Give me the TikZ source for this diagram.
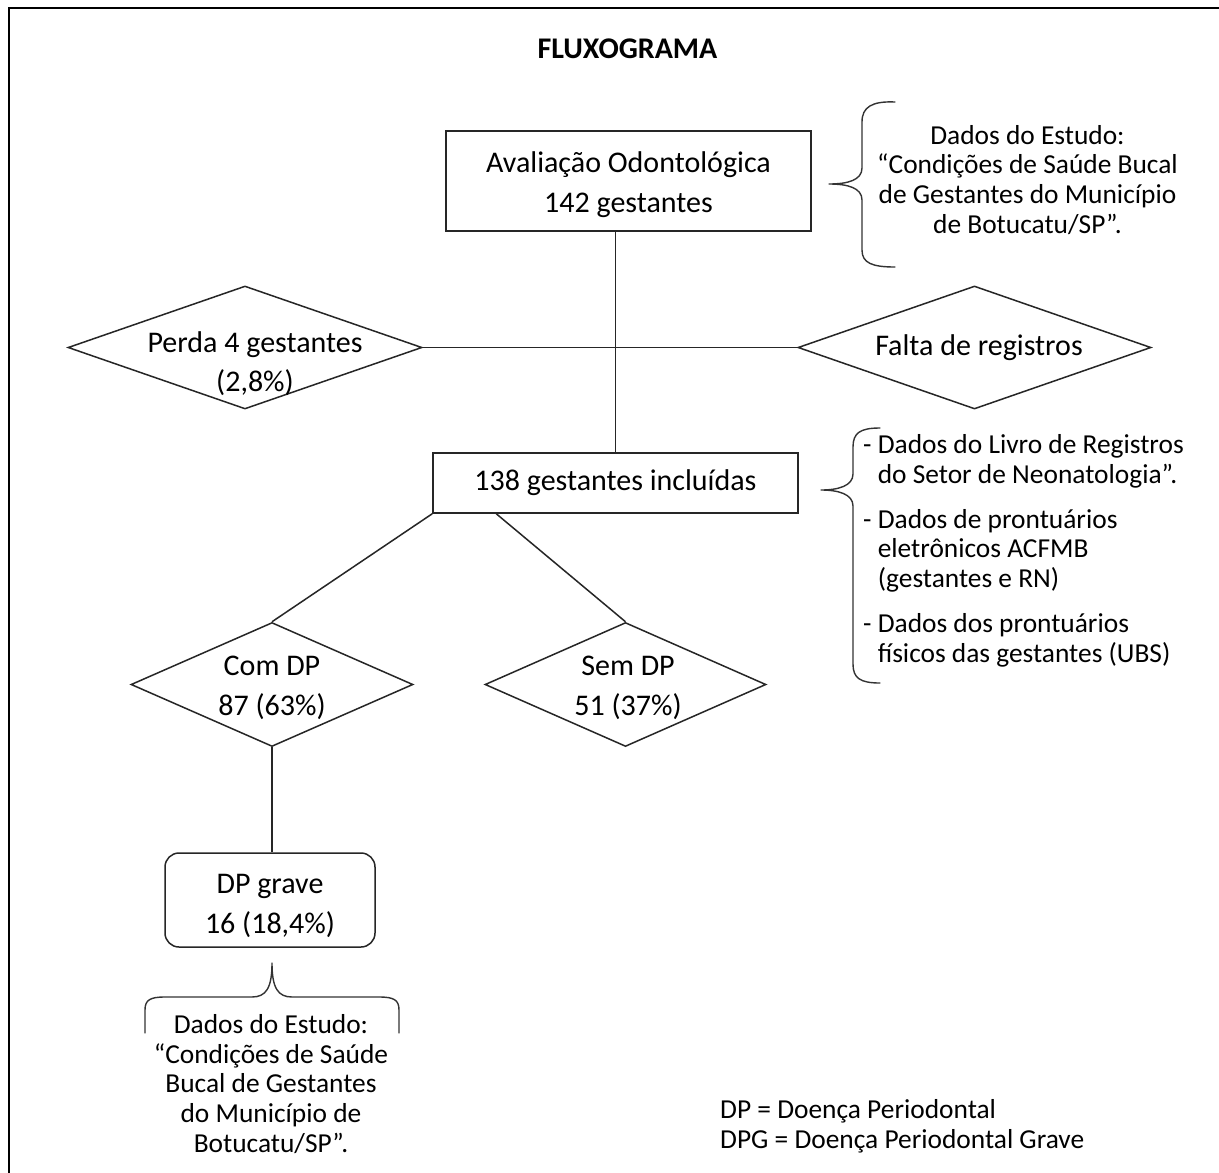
\documentclass[tikz,border=0pt]{standalone}
\usepackage{fontspec}
\setmainfont{Carlito}
\usetikzlibrary{shapes.geometric,calc}
\begin{document}
\begin{tikzpicture}[x=1pt,y=-1pt,
  ln/.style={line width=1.5pt, draw=black!85},
  boxnode/.style={ln, draw, rectangle, inner sep=0pt},
  dianode/.style={ln, draw, diamond, inner sep=0pt},
  bigtxt/.style={font=\fontsize{30}{40}\selectfont, inner sep=0pt, align=center, anchor=base},
  smalltxt/.style={font=\fontsize{27.4}{29.6}\selectfont, inner sep=0pt, anchor=base},
  bracepath/.style={line width=1.4pt, draw=black!80, line join=round, line cap=round}
]
\useasboundingbox (0,0) rectangle (1219,1173);
\fill[white] (0,0) rectangle (1219,1173);

% outer frame (left and top edges visible)
\draw[line width=2.6pt] (9,1173) -- (9,8) -- (1219,8);

% title
\node[font=\bfseries\fontsize{30}{36}\selectfont, inner sep=0pt, anchor=base] (title) at (627.5,58) {FLUXOGRAMA};

% main boxes (multi-line text nodes are anchored at the baseline of their last line)
\node[boxnode, minimum width=365pt, minimum height=100pt] (b1) at (628.5,181) {};
\node[bigtxt] (b1t) at (628.5,212) {Avaliação Odontológica\\142 gestantes};

\node[boxnode, minimum width=365pt, minimum height=60pt, font=\fontsize{30}{40}\selectfont] (b2) at (615.5,483) {138 gestantes incluídas};

% diamonds
\node[dianode, minimum width=354pt, minimum height=123pt] (d1) at (245,347.5) {};
\node[bigtxt, font=\fontsize{30}{39}\selectfont] (d1t) at (255,391) {Perda 4 gestantes\\(2,8\%)};

\node[dianode, minimum width=353pt, minimum height=123pt] (d2) at (974.5,347.5) {};
\node[bigtxt] (d2t) at (979,355) {Falta de registros};

\node[dianode, minimum width=282pt, minimum height=124pt] (d3) at (272,684.5) {};
\node[bigtxt] (d3t) at (272,715) {Com DP\\87 (63\%)};

\node[dianode, minimum width=281pt, minimum height=124pt] (d4) at (625.5,684.5) {};
\node[bigtxt] (d4t) at (628,715) {Sem DP\\51 (37\%)};

% rounded box
\node[boxnode, rounded corners=14pt, minimum width=210pt, minimum height=94pt] (rb) at (270,900) {};
\node[bigtxt] (rbt) at (270,933) {DP grave\\16 (18,4\%)};

% connectors
\draw[ln] (b2.north |- b1.south) -- (b2.north);
\draw[ln] (d1.east) -- (d2.west);
\draw[ln] (b2.south west) -- (d3.north);
\coordinate (b2r) at ($(b2.south west)+(64,0)$);
\draw[ln] (b2r) -- (d4.north);
\draw[ln] (d3.south) -- (d3.south |- rb.north);

% brace 1
\draw[bracepath] (895,102) .. controls (872,101) and (862,107) .. (862,122) -- (862,168)
  .. controls (862,180) and (848,184) .. (829,184)
  .. controls (848,184) and (862,188) .. (862,200) -- (862,250)
  .. controls (862,263) and (872,267) .. (895,267);
\node[smalltxt, align=center] (s1) at (1027.5,233) {Dados do Estudo:\\“Condições de Saúde Bucal\\de Gestantes do Município\\de Botucatu/SP”.};

% brace 2
\draw[bracepath] (880,428) .. controls (860,428) and (853,433) .. (853,447) -- (853,474)
  .. controls (853,486) and (838,490) .. (821,490)
  .. controls (838,490) and (853,494) .. (853,506) -- (853,664)
  .. controls (853,678) and (860,683) .. (880,683);
\node[smalltxt, anchor=base west, align=left] (s2) at (863,662) {- Dados do Livro de Registros\\\hphantom{-\ }do Setor de Neonatologia”.\\[15.5pt]- Dados de prontuários\\\hphantom{-\ }eletrônicos ACFMB\\\hphantom{-\ }(gestantes e RN)\\[15.5pt]- Dados dos prontuários\\\hphantom{-\ }físicos das gestantes (UBS)};

% bottom brace
\draw[bracepath] (145,1033) -- (145,1010) .. controls (145,1000) and (150,997) .. (165,997) -- (252,997)
  .. controls (266,997) and (272,988) .. (272,963)
  .. controls (272,988) and (278,997) .. (292,997) -- (379,997)
  .. controls (394,997) and (399,1000) .. (399,1010) -- (399,1033);
\node[smalltxt, align=center] (s3) at (271,1152) {Dados do Estudo:\\“Condições de Saúde\\Bucal de Gestantes\\do Município de\\Botucatu/SP”.};

% legend
\node[smalltxt, anchor=base west, align=left] (leg) at (720,1148) {DP = Doença Periodontal\\DPG = Doença Periodontal Grave};
\end{tikzpicture}
\end{document}
